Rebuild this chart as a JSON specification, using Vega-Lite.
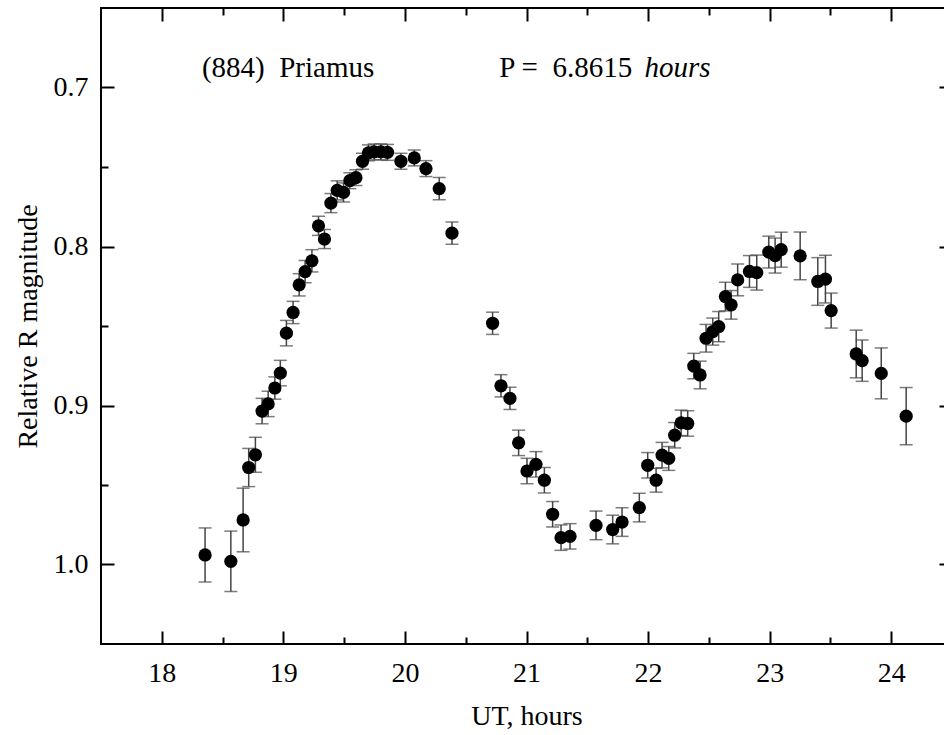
{
  "$schema": "https://vega.github.io/schema/vega-lite/v6.json",
  "width": 851,
  "height": 636,
  "autosize": {"type": "none"},
  "padding": {"left": 101, "top": 8, "right": -8, "bottom": 91},
  "background": "white",
  "config": {
    "view": {"stroke": "#000", "strokeWidth": 2},
    "axis": {
      "domain": false, "grid": false, "tickColor": "#000", "tickWidth": 2,
      "labelFont": "Liberation Serif", "labelFontSize": 28, "labelColor": "#000",
      "titleFont": "Liberation Serif", "titleFontSize": 28, "titleFontWeight": "normal", "titleColor": "#000"
    },
    "text": {"font": "Liberation Serif", "color": "#000"}
  },
  "datasets": {
    "obs": [
      {"t": 18.356, "m": 0.994, "e": 0.017},
      {"t": 18.568, "m": 0.998, "e": 0.019},
      {"t": 18.669, "m": 0.972, "e": 0.020},
      {"t": 18.715, "m": 0.939, "e": 0.012},
      {"t": 18.770, "m": 0.931, "e": 0.011},
      {"t": 18.825, "m": 0.9035, "e": 0.008},
      {"t": 18.875, "m": 0.899, "e": 0.008},
      {"t": 18.930, "m": 0.889, "e": 0.007},
      {"t": 18.975, "m": 0.8796, "e": 0.008},
      {"t": 19.025, "m": 0.8545, "e": 0.008},
      {"t": 19.080, "m": 0.8415, "e": 0.007},
      {"t": 19.130, "m": 0.8241, "e": 0.007},
      {"t": 19.179, "m": 0.8158, "e": 0.007},
      {"t": 19.235, "m": 0.809, "e": 0.007},
      {"t": 19.289, "m": 0.787, "e": 0.006},
      {"t": 19.338, "m": 0.7953, "e": 0.006},
      {"t": 19.391, "m": 0.7727, "e": 0.006},
      {"t": 19.443, "m": 0.7647, "e": 0.006},
      {"t": 19.495, "m": 0.766, "e": 0.006},
      {"t": 19.547, "m": 0.7586, "e": 0.005},
      {"t": 19.597, "m": 0.7567, "e": 0.005},
      {"t": 19.651, "m": 0.7464, "e": 0.005},
      {"t": 19.700, "m": 0.7411, "e": 0.005},
      {"t": 19.747, "m": 0.7405, "e": 0.005},
      {"t": 19.802, "m": 0.7405, "e": 0.005},
      {"t": 19.857, "m": 0.7408, "e": 0.005},
      {"t": 19.967, "m": 0.7464, "e": 0.005},
      {"t": 20.077, "m": 0.7443, "e": 0.005},
      {"t": 20.173, "m": 0.751, "e": 0.005},
      {"t": 20.282, "m": 0.7636, "e": 0.007},
      {"t": 20.387, "m": 0.7916, "e": 0.007},
      {"t": 20.721, "m": 0.8483, "e": 0.007},
      {"t": 20.790, "m": 0.8876, "e": 0.007},
      {"t": 20.864, "m": 0.8955, "e": 0.007},
      {"t": 20.935, "m": 0.9235, "e": 0.008},
      {"t": 21.004, "m": 0.9412, "e": 0.008},
      {"t": 21.078, "m": 0.937, "e": 0.008},
      {"t": 21.147, "m": 0.947, "e": 0.008},
      {"t": 21.215, "m": 0.9684, "e": 0.008},
      {"t": 21.284, "m": 0.9831, "e": 0.008},
      {"t": 21.358, "m": 0.9823, "e": 0.008},
      {"t": 21.572, "m": 0.9754, "e": 0.009},
      {"t": 21.709, "m": 0.978, "e": 0.009},
      {"t": 21.786, "m": 0.9733, "e": 0.009},
      {"t": 21.928, "m": 0.9642, "e": 0.009},
      {"t": 21.997, "m": 0.9376, "e": 0.008},
      {"t": 22.066, "m": 0.947, "e": 0.0075},
      {"t": 22.115, "m": 0.9312, "e": 0.008},
      {"t": 22.170, "m": 0.9333, "e": 0.0075},
      {"t": 22.219, "m": 0.9187, "e": 0.008},
      {"t": 22.272, "m": 0.9109, "e": 0.008},
      {"t": 22.326, "m": 0.9113, "e": 0.008},
      {"t": 22.376, "m": 0.8752, "e": 0.008},
      {"t": 22.428, "m": 0.8808, "e": 0.0087},
      {"t": 22.477, "m": 0.8577, "e": 0.0087},
      {"t": 22.532, "m": 0.8535, "e": 0.0085},
      {"t": 22.581, "m": 0.8504, "e": 0.0095},
      {"t": 22.636, "m": 0.8315, "e": 0.009},
      {"t": 22.683, "m": 0.8367, "e": 0.009},
      {"t": 22.737, "m": 0.821, "e": 0.010},
      {"t": 22.834, "m": 0.8157, "e": 0.010},
      {"t": 22.894, "m": 0.8164, "e": 0.011},
      {"t": 22.993, "m": 0.8035, "e": 0.010},
      {"t": 23.045, "m": 0.8057, "e": 0.011},
      {"t": 23.095, "m": 0.802, "e": 0.011},
      {"t": 23.251, "m": 0.8059, "e": 0.015},
      {"t": 23.396, "m": 0.822, "e": 0.015},
      {"t": 23.459, "m": 0.8205, "e": 0.015},
      {"t": 23.506, "m": 0.8403, "e": 0.011},
      {"t": 23.712, "m": 0.8676, "e": 0.015},
      {"t": 23.761, "m": 0.8718, "e": 0.013},
      {"t": 23.918, "m": 0.8798, "e": 0.016},
      {"t": 24.123, "m": 0.9067, "e": 0.018}
    ],
    "name": [{"t": 18.33, "m": 0.6931, "label": "(884)\u00a0\u00a0Priamus"}],
    "period": [{"t": 20.776, "m": 0.6931, "label": "P =\u00a0\u00a06.8615"}],
    "unit": [{"t": 21.97, "m": 0.6931, "label": "hours"}]
  },
  "layer": [
    {
      "data": {"name": "obs"},
      "mark": {"type": "errorbar", "ticks": {"size": 13, "thickness": 1.5, "color": "#444"}, "color": "#444", "thickness": 1.5},
      "encoding": {
        "x": {"field": "t", "type": "quantitative", "scale": {"domain": [17.5, 24.5], "nice": false, "zero": false}, "axis": null},
        "y": {"field": "m", "type": "quantitative", "scale": {"domain": [0.65, 1.05], "reverse": true, "nice": false, "zero": false}, "axis": null},
        "yError": {"field": "e"}
      }
    },
    {
      "data": {"name": "obs"},
      "mark": {"type": "circle", "size": 175, "color": "#000", "opacity": 1},
      "encoding": {
        "x": {"field": "t", "type": "quantitative", "axis": {"orient": "bottom", "values": [18, 19, 20, 21, 22, 23, 24], "tickSize": -13, "labelPadding": 28, "title": "UT, hours", "titlePadding": 15}},
        "y": {"field": "m", "type": "quantitative", "axis": {"orient": "left", "values": [0.7, 0.8, 0.9, 1.0], "format": ".1f", "tickSize": -13, "labelPadding": 26, "title": "Relative R magnitude", "titlePadding": 11}}
      }
    },
    {
      "data": {"name": "name"},
      "mark": {"type": "text", "align": "left", "baseline": "alphabetic", "fontSize": 29},
      "encoding": {
        "x": {"field": "t", "type": "quantitative", "axis": {"orient": "bottom", "values": [18.5, 19.5, 20.5, 21.5, 22.5, 23.5], "tickSize": -7, "labels": false, "title": null}},
        "y": {"field": "m", "type": "quantitative", "axis": {"orient": "left", "values": [0.75, 0.85, 0.95], "tickSize": -7, "labels": false, "title": null}},
        "text": {"field": "label"}
      }
    },
    {
      "data": {"name": "period"},
      "mark": {"type": "text", "align": "left", "baseline": "alphabetic", "fontSize": 29},
      "encoding": {
        "x": {"field": "t", "type": "quantitative", "axis": {"orient": "top", "values": [18, 19, 20, 21, 22, 23, 24], "tickSize": -13, "labels": false, "title": null}},
        "y": {"field": "m", "type": "quantitative", "axis": {"orient": "right", "values": [0.7, 0.8, 0.9, 1.0], "tickSize": -13, "labels": false, "title": null}},
        "text": {"field": "label"}
      }
    },
    {
      "data": {"name": "unit"},
      "mark": {"type": "text", "align": "left", "baseline": "alphabetic", "fontSize": 29, "fontStyle": "italic"},
      "encoding": {
        "x": {"field": "t", "type": "quantitative", "axis": {"orient": "top", "values": [18.5, 19.5, 20.5, 21.5, 22.5, 23.5], "tickSize": -7, "labels": false, "title": null}},
        "y": {"field": "m", "type": "quantitative", "axis": {"orient": "right", "values": [0.75, 0.85, 0.95], "tickSize": -7, "labels": false, "title": null}},
        "text": {"field": "label"}
      }
    }
  ],
  "resolve": {"axis": {"x": "independent", "y": "independent"}}
}
